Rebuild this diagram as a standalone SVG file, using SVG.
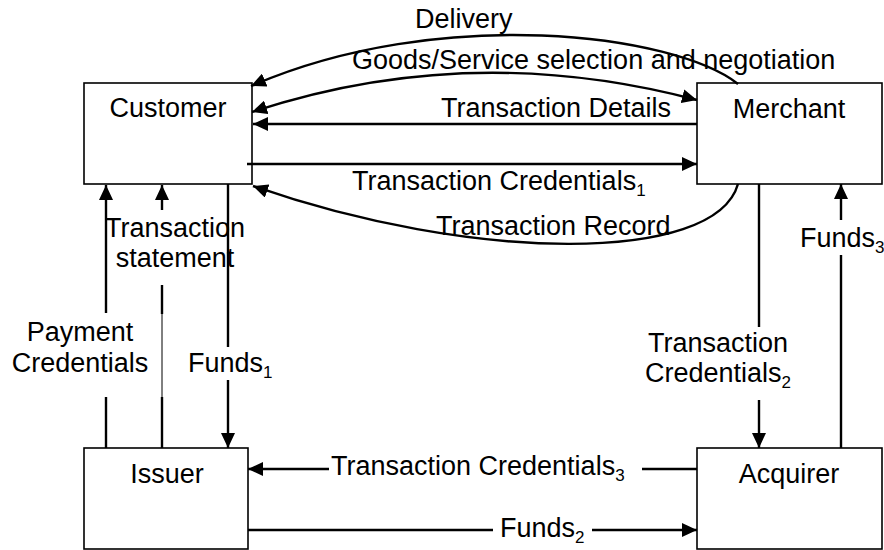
<svg xmlns="http://www.w3.org/2000/svg" width="884" height="550" viewBox="0 0 884 550">
<style>
.box{fill:#fff;stroke:#000;stroke-width:1.6}
.ln{fill:none;stroke:#000;stroke-width:2.4}
.thin{fill:none;stroke:#000;stroke-width:1}
.arr{marker-end:url(#ah)}
text{font-family:"Liberation Sans",Arial,sans-serif;font-size:27px;fill:#000}
.sub{font-size:17px}
</style>
<defs>
<marker id="ah" markerUnits="userSpaceOnUse" markerWidth="17" markerHeight="14" refX="15" refY="7" orient="auto-start-reverse">
<path d="M0,0 L15,7 L0,14 z" fill="#000"/>
</marker>
</defs>
<rect width="884" height="550" fill="#fff"/>
<g id="customer"><rect class="box" x="84" y="83" width="168" height="101"/><text x="168" y="117" text-anchor="middle">Customer</text></g>
<g id="merchant"><rect class="box" x="697" y="83" width="185" height="101"/><text x="789" y="118" text-anchor="middle">Merchant</text></g>
<g id="issuer"><rect class="box" x="84" y="448" width="164" height="101"/><text x="167" y="483" text-anchor="middle">Issuer</text></g>
<g id="acquirer"><rect class="box" x="697" y="448" width="185" height="101"/><text x="789" y="483" text-anchor="middle">Acquirer</text></g>
<g id="connectors">
<path class="ln arr" d="M738,84 C675,34 440,4 251,86"/>
<path class="ln arr" d="M252,112 Q470,40 697,100" marker-start="url(#ah)"/>
<line class="ln arr" x1="697" y1="124" x2="253" y2="124"/>
<line class="ln arr" x1="247" y1="164" x2="697" y2="164"/>
<path class="ln arr" d="M738,184 C715,265 470,262 253,186"/>
<line class="ln" x1="106" y1="448" x2="106" y2="397"/>
<line class="ln arr" x1="106" y1="313" x2="106" y2="185"/>
<line class="ln" x1="162" y1="448" x2="162" y2="397"/>
<line class="thin" x1="162" y1="397" x2="162" y2="314"/>
<line class="ln" x1="162" y1="314" x2="162" y2="285"/>
<line class="ln arr" x1="162" y1="210" x2="162" y2="185"/>
<line class="ln" x1="228" y1="184" x2="228" y2="347"/>
<line class="ln arr" x1="228" y1="380" x2="228" y2="448"/>
<line class="ln" x1="759" y1="184" x2="759" y2="327"/>
<line class="ln arr" x1="759" y1="400" x2="759" y2="448"/>
<line class="ln" x1="841" y1="448" x2="841" y2="255"/>
<line class="ln arr" x1="841" y1="220" x2="841" y2="184"/>
<line class="ln" x1="697" y1="469" x2="642" y2="469"/>
<line class="ln arr" x1="329" y1="469" x2="248" y2="469"/>
<line class="ln" x1="248" y1="530" x2="493" y2="530"/>
<line class="ln arr" x1="592" y1="530" x2="697" y2="530"/>
</g>
<g id="labels">
<text x="415" y="28">Delivery</text>
<text x="352" y="69">Goods/Service selection and negotiation</text>
<text x="441" y="117">Transaction Details</text>
<text x="352" y="190">Transaction Credentials<tspan class="sub" dy="6">1</tspan></text>
<text x="436" y="235">Transaction Record</text>
<text x="175" y="237" text-anchor="middle">Transaction</text>
<text x="175" y="267" text-anchor="middle">statement</text>
<text x="80" y="341" text-anchor="middle">Payment</text>
<text x="80" y="372" text-anchor="middle">Credentials</text>
<text x="188" y="372">Funds<tspan class="sub" dy="6">1</tspan></text>
<text x="718" y="352" text-anchor="middle">Transaction</text>
<text x="645" y="382">Credentials<tspan class="sub" dy="6">2</tspan></text>
<text x="800" y="247">Funds<tspan class="sub" dy="6">3</tspan></text>
<text x="331" y="475">Transaction Credentials<tspan class="sub" dy="6">3</tspan></text>
<text x="500" y="537">Funds<tspan class="sub" dy="6">2</tspan></text>
</g>
</svg>
